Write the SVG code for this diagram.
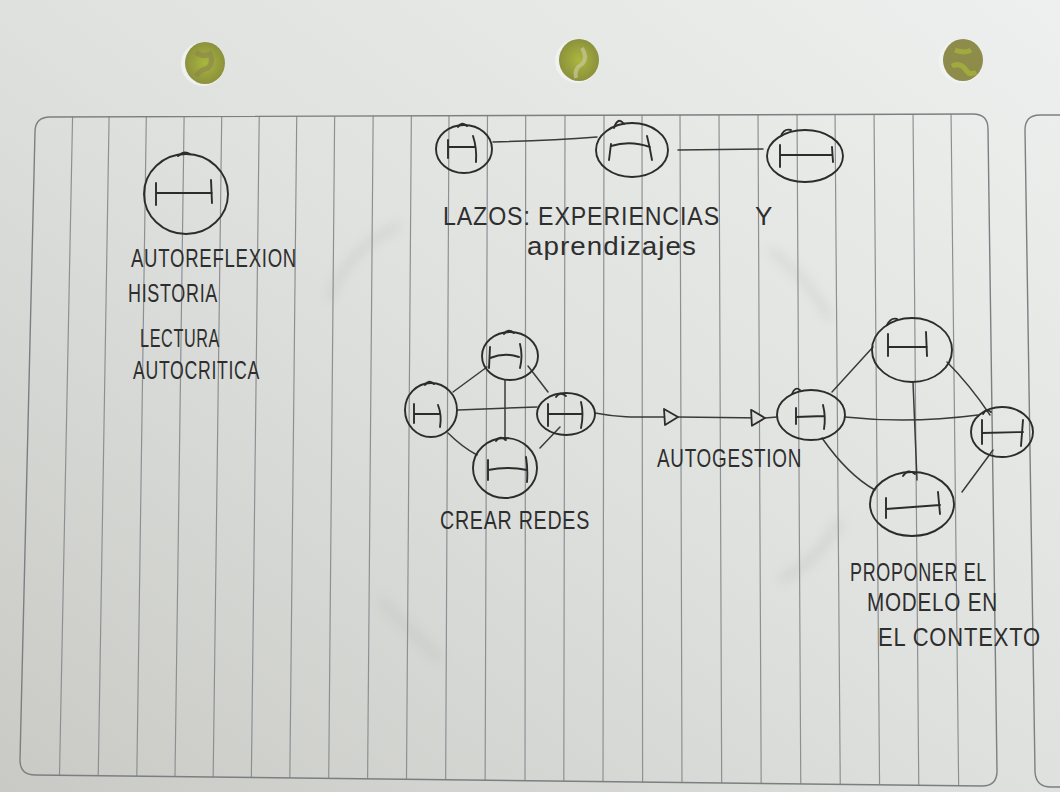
<svg xmlns="http://www.w3.org/2000/svg" width="1060" height="792" viewBox="0 0 1060 792">
<defs>
<linearGradient id="paper" x1="1" y1="0" x2="0" y2="1">
<stop offset="0" stop-color="#eef0ef"/>
<stop offset="0.5" stop-color="#dfe1de"/>
<stop offset="1" stop-color="#c9cac6"/>
</linearGradient>
<radialGradient id="hole" cx="0.5" cy="0.5" r="0.6">
<stop offset="0" stop-color="#a9b83e"/>
<stop offset="1" stop-color="#86893c"/>
</radialGradient>
<clipPath id="pageclip">
<path d="M50,117 L973,114 Q988,114 988,129 L997,771 Q997,786 982,786 L35,775 Q20,775 20,760 L35,132 Q35,117 50,117 Z"/>
</clipPath>
<filter id="soft" x="-50%" y="-50%" width="200%" height="200%"><feGaussianBlur stdDeviation="6"/></filter>
<marker id="tri" viewBox="0 0 16 18" refX="15" refY="9" markerWidth="16" markerHeight="18" markerUnits="userSpaceOnUse" orient="auto">
<path d="M1,1 L15,9 L2,17 Z" fill="#dedfdc" stroke="#2c2c2c" stroke-width="1.8" stroke-linejoin="round"/>
</marker>
<style>
.rule{stroke:#8d9093;stroke-width:1.2;fill:none}
.border{stroke:#7c7f82;stroke-width:1.4;fill:none}
.pen{stroke:#2c2c2c;stroke-width:1.9;fill:none;stroke-linecap:round;stroke-linejoin:round}
.ring{stroke:#2c2c2c;stroke-width:1.9;fill:none}
.edge{stroke:#3a3a3a;stroke-width:1.5;fill:none;stroke-linecap:round}
.hand{font-family:"Liberation Sans","DejaVu Sans",sans-serif;fill:#2e2e2e;font-size:26px;letter-spacing:1px}
</style>
</defs>

<rect x="0" y="0" width="1060" height="792" fill="url(#paper)"/>
<!-- faint creases -->
<g opacity="0.25" filter="url(#soft)">
<path d="M330,300 Q345,250 400,225" stroke="#9a9b98" stroke-width="6" fill="none"/>
<path d="M380,600 Q420,640 440,660" stroke="#9a9b98" stroke-width="6" fill="none"/>
<path d="M780,580 Q820,560 840,520" stroke="#9a9b98" stroke-width="7" fill="none"/>
<path d="M770,250 Q810,280 830,320" stroke="#9a9b98" stroke-width="6" fill="none"/>
</g>

<!-- punched holes -->
<g id="holes">
<ellipse cx="203" cy="64" rx="22" ry="22" fill="#f3f4f2" opacity="0.8"/>
<ellipse cx="205" cy="63" rx="20" ry="21" fill="url(#hole)"/>
<path d="M196,52 q6,6 14,2 q4,8 -2,14 q-8,2 -12,8" stroke="#8a8350" stroke-width="5" fill="none" opacity="0.6"/>
<ellipse cx="577" cy="61" rx="22" ry="22" fill="#f3f4f2" opacity="0.8"/>
<ellipse cx="579" cy="60" rx="20" ry="21" fill="url(#hole)"/>
<path d="M582,48 q6,10 0,16 q-8,4 -6,14" stroke="#c9c79a" stroke-width="4" fill="none" opacity="0.7"/>
<ellipse cx="961" cy="61" rx="22" ry="22" fill="#f3f4f2" opacity="0.8"/>
<ellipse cx="963" cy="60" rx="20" ry="21" fill="#8e8c4a"/>
<path d="M955,50 q10,4 16,0 M952,66 q8,-4 14,4 q4,6 10,2" stroke="#a6b23c" stroke-width="5" fill="none" opacity="0.8"/>
</g>

<!-- page ruling -->
<g id="ruling" clip-path="url(#pageclip)">
<path class="rule" d="M72.7,110 L59.2,790 M109.2,110 L98,790 M146.4,110 L136.6,790 M184.2,110 L174.8,790 M221.8,110 L213,790 M259.3,110 L251.2,790 M296.8,110 L289.7,790 M334.7,110 L328.6,790 M373.2,110 L367.5,790 M411.4,110 L406.4,790 M449,110 L445.6,790 M487.5,110 L485.1,790 M525.7,110 L525,790 M565,110 L563.8,790 M604,110 L603,790 M642,110 L642.6,790 M680,110 L682,790 M719,110 L721.7,790 M758,110 L761.2,790 M797,110 L800.8,790 M835,110 L840.3,790 M874,110 L879.6,790 M913,110 L918.8,790 M951,110 L958.7,790"/>
</g>
<path class="border" d="M50,117 L973,114 Q988,114 988,129 L997,771 Q997,786 982,786 L35,775 Q20,775 20,760 L35,132 Q35,117 50,117 Z"/>
<path class="border" d="M1060,115 L1040,115 Q1025,115 1025,130 L1035,772 Q1036,787 1051,787 L1060,787"/>

<!-- connectors -->
<g id="connectors">
<path class="edge" d="M493,142 C530,141 570,139 597,137"/>
<path class="edge" d="M678,150 L763,149"/>
<path class="edge" d="M487,367 L453,392"/>
<path class="edge" d="M528,366 L548,392"/>
<path class="edge" d="M458,410 L537,407"/>
<path class="edge" d="M505,380 L505,440"/>
<path class="edge" d="M448,433 Q462,447 477,455"/>
<path class="edge" d="M560,427 L540,448"/>
<path class="edge" d="M595,413 C620,418 640,417 678,417" marker-end="url(#tri)"/>
<path class="edge" d="M678,417 L765,418" marker-end="url(#tri)"/>
<path class="edge" d="M765,418 L777,417"/>
<path class="edge" d="M832,392 L873,347"/>
<path class="edge" d="M947,362 Q970,385 990,415"/>
<path class="edge" d="M845,417 Q910,424 978,415"/>
<path class="edge" d="M913,382 L917,480"/>
<path class="edge" d="M822,438 Q848,475 875,490"/>
<path class="edge" d="M993,450 L962,492"/>
</g>

<!-- nodes -->
<g id="n-autoreflexion">
<ellipse class="ring" cx="186" cy="194" rx="42" ry="40"/>
<path class="pen" d="M178,156 q6,-6 12,-2"/>
<path class="pen" d="M156,183 L156,205 M156,193 L212,193 M211,180 L212,203"/>
</g>
<g id="n-lazos1">
<ellipse class="ring" cx="464" cy="149" rx="28" ry="24"/>
<path class="pen" d="M458,127 q4,-6 9,-1"/>
<path class="pen" d="M448,140 L448,158 M448,147 L475,147 M473,136 q4,12 3,26"/>
</g>
<g id="n-lazos2">
<ellipse class="ring" cx="632" cy="150" rx="36" ry="27"/>
<path class="pen" d="M614,128 q4,-12 10,-4"/>
<path class="pen" d="M611,144 L609,160 M611,146 Q630,140 650,147 M647,136 q3,12 5,24"/>
</g>
<g id="n-lazos3">
<ellipse class="ring" cx="805" cy="156" rx="38" ry="26"/>
<path class="pen" d="M781,136 q3,-8 10,-6"/>
<path class="pen" d="M780,145 L780,167 M780,155 L832,155 M832,147 L833,162"/>
</g>
<g id="n-red-top">
<ellipse class="ring" cx="510" cy="356" rx="28" ry="24"/>
<path class="pen" d="M504,334 q4,-6 10,-1"/>
<path class="pen" d="M490,347 L489,368 M490,358 Q505,352 519,357 M520,344 q3,12 0,24"/>
</g>
<g id="n-red-left">
<ellipse class="ring" cx="431" cy="410" rx="26" ry="27"/>
<path class="pen" d="M425,385 q4,-6 9,-1"/>
<path class="pen" d="M414,404 L414,423 M414,414 L440,414 M438,405 q4,10 2,22"/>
</g>
<g id="n-red-right">
<ellipse class="ring" cx="566" cy="414" rx="29" ry="21"/>
<path class="pen" d="M556,397 q4,-6 10,-1"/>
<path class="pen" d="M548,404 L548,426 M548,414 L582,414 M581,402 q3,12 0,26"/>
</g>
<g id="n-red-bottom">
<ellipse class="ring" cx="505" cy="468" rx="32" ry="30"/>
<path class="pen" d="M496,441 q4,-6 10,-1"/>
<path class="pen" d="M488,460 L488,480 M488,470 Q508,466 527,470 M526,457 q2,12 1,25"/>
</g>
<g id="n-autogestion">
<ellipse class="ring" cx="811" cy="415" rx="34" ry="25"/>
<path class="pen" d="M792,394 q3,-8 8,-4"/>
<path class="pen" d="M796,408 L796,424 M796,417 L824,416 M823,405 q3,12 1,24"/>
</g>
<g id="n-model-top">
<ellipse class="ring" cx="912" cy="350" rx="40" ry="32"/>
<path class="pen" d="M887,325 q4,-8 10,-6"/>
<path class="pen" d="M888,334 L888,356 M888,347 L927,347 M926,332 L927,356"/>
</g>
<g id="n-model-right">
<ellipse class="ring" cx="1002" cy="432" rx="31" ry="25"/>
<path class="pen" d="M983,414 q3,-6 8,-2"/>
<path class="pen" d="M982,420 L982,444 M982,433 L1023,432 M1023,420 L1021,446"/>
</g>
<g id="n-model-bottom">
<ellipse class="ring" cx="912" cy="504" rx="42" ry="32"/>
<path class="pen" d="M903,476 q5,-8 12,-2"/>
<path class="pen" d="M886,498 L886,518 M886,509 L940,505 M938,492 L940,514"/>
</g>

<!-- labels -->
<g id="labels">
<text class="hand" x="131" y="267" textLength="166" lengthAdjust="spacingAndGlyphs">AUTOREFLEXION</text>
<text class="hand" x="128" y="302" textLength="90" lengthAdjust="spacingAndGlyphs">HISTORIA</text>
<text class="hand" x="140" y="347" textLength="80" lengthAdjust="spacingAndGlyphs">LECTURA</text>
<text class="hand" x="133" y="379" textLength="127" lengthAdjust="spacingAndGlyphs">AUTOCRITICA</text>
<text class="hand" x="443" y="225" font-size="29" textLength="277" lengthAdjust="spacingAndGlyphs">LAZOS: EXPERIENCIAS</text>
<text class="hand" x="755" y="225" font-size="29">Y</text>
<text class="hand" x="527" y="255" font-size="27" textLength="170" lengthAdjust="spacingAndGlyphs">aprendizajes</text>
<text class="hand" x="440" y="529" font-size="23" textLength="150" lengthAdjust="spacingAndGlyphs">CREAR REDES</text>
<text class="hand" x="657" y="467" font-size="23" textLength="145" lengthAdjust="spacingAndGlyphs">AUTOGESTION</text>
<text class="hand" x="850" y="581" font-size="24" textLength="137" lengthAdjust="spacingAndGlyphs">PROPONER EL</text>
<text class="hand" x="867" y="611" font-size="24" textLength="131" lengthAdjust="spacingAndGlyphs">MODELO EN</text>
<text class="hand" x="878" y="646" font-size="26" textLength="163" lengthAdjust="spacingAndGlyphs">EL CONTEXTO</text>
</g>
</svg>
